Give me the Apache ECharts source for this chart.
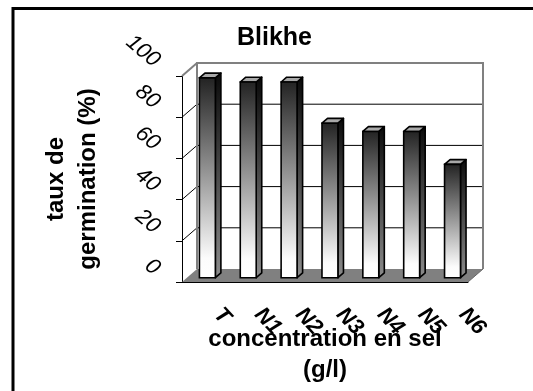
<!DOCTYPE html>
<html><head><meta charset="utf-8">
<script src="https://cdn.jsdelivr.net/npm/echarts@6/dist/echarts.min.js"></script>
<style>html,body{margin:0;padding:0;background:#fff}#c{width:533px;height:391px}</style>
</head><body><div id="c"></div>
<script>
// ---- data ----
const categories = ['T', 'N1', 'N2', 'N3', 'N4', 'N5', 'N6'];
const germination = [97, 95, 95, 75, 71, 71, 55];
const yTicks = [0, 20, 40, 60, 80, 100];
const chartTitle = 'Blikhe';
const yTitle = 'taux de\ngermination (%)';
const xTitle = 'concentration en sel\n(g/l)';

// ---- 3D look constants ----
const DX = 15, DY = -13;      // depth of the chart box
const F1 = 0.33, F2 = 0.70;   // bar front/back depth fractions
const BAR = 0.39;             // bar width as fraction of category width
const FONT = 'Liberation Sans';

const chart = echarts.init(document.getElementById('c'));

function wallsItem(params, api) {
  const cs = params.coordSys;
  const y = v => api.coord([0, v])[1];
  const x0 = cs.x, x1 = cs.x + cs.width;
  const yb = y(yTicks[0]), yt = y(yTicks[yTicks.length - 1]);
  const ch = [];
  ch.push({type: 'polygon', shape: {points: [[x0, yb], [x1, yb], [x1 + DX, yb + DY], [x0 + DX, yb + DY]]},
    style: {fill: '#808080', stroke: null}});
  yTicks.forEach((v, i) => {
    if (i === 0 || i === yTicks.length - 1) return;
    const yy = y(v);
    ch.push({type: 'polyline', shape: {points: [[x0, yy], [x0 + DX, yy + DY], [x1 + DX, yy + DY]]},
      style: {stroke: '#000', lineWidth: 1, fill: null}});
  });
  ch.push({type: 'polyline', shape: {points: [[x0 + DX, yb + DY], [x0 + DX, yt + DY], [x1 + DX, yt + DY], [x1 + DX, yb + DY]]},
    style: {stroke: '#808080', lineWidth: 2, fill: null}});
  ch.push({type: 'line', shape: {x1: x0, y1: yt, x2: x0 + DX, y2: yt + DY},
    style: {stroke: '#808080', lineWidth: 2}});
  ch.push({type: 'line', shape: {x1: x1, y1: yb, x2: x1 + DX, y2: yb + DY},
    style: {stroke: '#666', lineWidth: 1}});
  return {type: 'group', children: ch};
}

function barItem(params, api) {
  const idx = api.value(0), v = api.value(1);
  const base = api.coord([idx, 0]);
  const top = api.coord([idx, v]);
  const cw = api.size([1, 0])[0];
  const w = cw * BAR;
  const ox = DX * F1, oy = DY * F1;
  const dx = DX * (F2 - F1), dy = DY * (F2 - F1);
  const xl = base[0] - w / 2 + ox, xr = base[0] + w / 2 + ox;
  const yt = top[1] + oy, yb = base[1] + oy;
  const lw = 1.6;
  return {type: 'group', children: [
    {type: 'polygon', shape: {points: [[xr, yt], [xr + dx, yt + dy], [xr + dx, yb + dy], [xr, yb]]},
      style: {fill: new echarts.graphic.LinearGradient(0, 0, 0, 1, [
        {offset: 0, color: '#0a0a0a'}, {offset: 1, color: '#8c8c8c'}]), stroke: '#000', lineWidth: lw, lineJoin: 'round'}},
    {type: 'polygon', shape: {points: [[xl, yt], [xr, yt], [xr + dx, yt + dy], [xl + dx, yt + dy]]},
      style: {fill: '#a8a8a8', stroke: '#000', lineWidth: lw, lineJoin: 'round'}},
    {type: 'rect', shape: {x: xl, y: yt, width: xr - xl, height: yb - yt},
      style: {fill: new echarts.graphic.LinearGradient(0, 0, 0, 1, [
        {offset: 0, color: '#222222'}, {offset: 0.9, color: '#fcfcfc'}, {offset: 1, color: '#ffffff'}]),
        stroke: '#000', lineWidth: lw}}
  ]};
}

const nameStyle = {fontSize: 24, fontWeight: 'bold', fontFamily: FONT, color: '#000'};

chart.setOption({
  animation: false,
  backgroundColor: '#fff',
  title: {text: chartTitle, left: 237, top: 26, padding: 0,
    textStyle: {fontSize: 25, fontWeight: 'bold', fontFamily: FONT, color: '#000'}},
  graphic: [{type: 'polyline', shape: {points: [[13, 391], [13, 8.5], [533, 8.5]]},
    style: {stroke: '#000', lineWidth: 3, fill: null}}],
  grid: [
    {left: 182, right: 65, top: 76, bottom: 107},
    {left: 197, right: 50, top: 63, bottom: 120}
  ],
  xAxis: [
    {gridIndex: 0, type: 'category', data: categories,
      axisLine: {lineStyle: {color: '#000', width: 1}},
      axisTick: {length: 8, lineStyle: {color: '#000'}},
      axisLabel: {show: false},
      name: xTitle, nameLocation: 'middle', nameGap: 42,
      nameTextStyle: Object.assign({lineHeight: 31}, nameStyle)},
    {gridIndex: 1, type: 'category', data: categories,
      axisLine: {show: false}, axisTick: {show: false},
      axisLabel: {interval: 0, rotate: -47, margin: 40, fontSize: 22, fontWeight: 'bold',
        fontStyle: 'italic', fontFamily: FONT, color: '#000'}}
  ],
  yAxis: [
    {gridIndex: 0, type: 'value', min: yTicks[0], max: yTicks[yTicks.length - 1], interval: 20,
      axisLine: {show: true, lineStyle: {color: '#000', width: 1}},
      axisTick: {show: true, length: 6, lineStyle: {color: '#000'}},
      axisLabel: {show: false}, splitLine: {show: false},
      name: yTitle, nameLocation: 'middle', nameRotate: 90, nameGap: 78,
      nameTextStyle: Object.assign({lineHeight: 32}, nameStyle)},
    {gridIndex: 1, type: 'value', min: yTicks[0], max: yTicks[yTicks.length - 1], interval: 20,
      axisLine: {show: false}, axisTick: {show: false}, splitLine: {show: false},
      axisLabel: {rotate: -40, margin: 40, fontSize: 22, fontStyle: 'italic', fontFamily: FONT, color: '#000'}}
  ],
  series: [
    {type: 'custom', name: 'walls', xAxisIndex: 0, yAxisIndex: 0, clip: false, z: 1,
      data: [[0, 0]], renderItem: wallsItem, silent: true},
    {type: 'custom', name: 'germination', xAxisIndex: 0, yAxisIndex: 0, clip: false, z: 3,
      encode: {x: 0, y: 1},
      data: categories.map((c, i) => [i, germination[i]]), renderItem: barItem}
  ]
});
</script>
</body></html>
